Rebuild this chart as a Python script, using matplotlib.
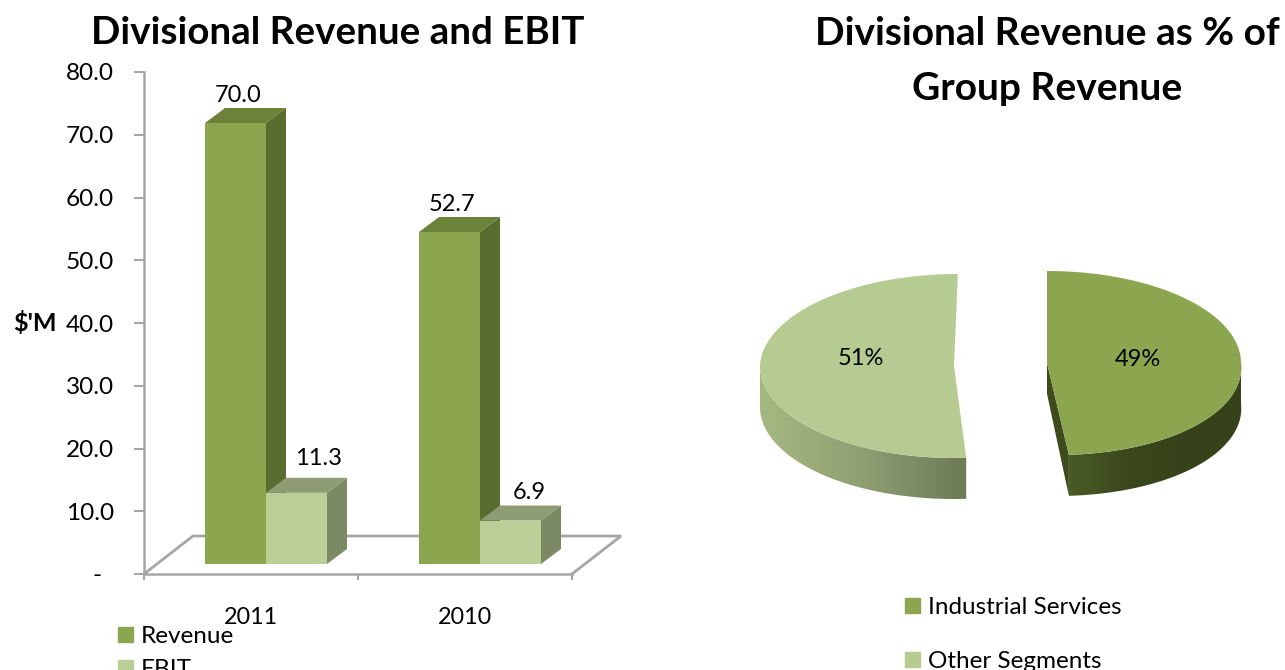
import numpy as np
import matplotlib
matplotlib.use("Agg")
import matplotlib.pyplot as plt
from matplotlib.patches import Polygon, Patch
from matplotlib.colors import LinearSegmentedColormap

plt.rcParams['font.family'] = ['Lato', 'DejaVu Sans']

# ---- data ----
years = ['2011', '2010']
revenue = [70.0, 52.7]
ebit = [11.3, 6.9]
y_ticks = [0, 10, 20, 30, 40, 50, 60, 70, 80]
y_tick_labels = ['-  ', '10.0', '20.0', '30.0', '40.0', '50.0', '60.0', '70.0', '80.0']
pie_labels = ['Industrial Services', 'Other Segments']
pie_shares = [49, 51]

W, H = 1285, 670
fig = plt.figure(figsize=(W / 100, H / 100), dpi=100, facecolor='white')


def axes_px(x0, y0, x1, y1):
    """Axes from pixel box (y measured from the top)."""
    return fig.add_axes([x0 / W, 1 - y1 / H, (x1 - x0) / W, (y1 - y0) / H])


GREY = '#a6a6a6'
TXT = '#000000'
C_REV = ('#8ba64e', '#5a6d30', '#6c8239')
C_EBIT = ('#b9cf96', '#7b8a65', '#8e9c73')

# ---- left: 3-D style column chart ----
ax = axes_px(144, 72, 572, 574)
ax.set_xlim(-0.5, 1.5)
ax.set_ylim(0, 80)
ax.patch.set_alpha(0)
px_x = 2 / 428
px_y = 80 / 502

for s in ('top', 'right'):
    ax.spines[s].set_visible(False)
for s in ('left', 'bottom'):
    ax.spines[s].set_color(GREY)
    ax.spines[s].set_linewidth(1.8)
    ax.spines[s].set_zorder(2)

ax.set_yticks(y_ticks)
ax.set_yticklabels(y_tick_labels, fontsize=17.6, color=TXT)
ax.tick_params(axis='y', length=7, width=1.5, color=GREY, pad=14.5)
ax.set_xticks([-0.5, 0.5, 1.5], minor=False)
ax.set_xticklabels(['', '', ''])
ax.tick_params(axis='x', length=4.5, width=1.5, color=GREY)
for i, yr in enumerate(years):
    ax.text(i, -44 / 502, yr, transform=ax.get_xaxis_transform(), fontsize=16.8, ha='center',
            va='center', color=TXT)
ax.text(-0.5 - 109.5 * px_x, 40, "$'M", fontsize=18, fontweight='bold', ha='center',
        va='center', color=TXT, clip_on=False)

# floor
floor_dx, floor_dy = 49 * px_x, 38 * px_y
ax.plot([-0.5, -0.5 + floor_dx, 1.5 + floor_dx, 1.5], [0, floor_dy, floor_dy, 0],
        color=GREY, lw=2, zorder=1, clip_on=False, solid_joinstyle='miter')

# columns
bar_w = 61 / 214
plane_x = 15 * px_x
base = 10 * px_y
scale = 6.3 * px_y
dep_x, dep_y = 20 * px_x, 15 * px_y


def column(xc_left, val, cols, z):
    x0, x1 = xc_left, xc_left + bar_w
    y0, y1 = base, base + val * scale
    ax.add_patch(Polygon([(x1, y0), (x1 + dep_x, y0 + dep_y), (x1 + dep_x, y1 + dep_y), (x1, y1)],
                         fc=cols[1], ec='none', zorder=z, clip_on=False))
    ax.add_patch(Polygon([(x0, y1), (x1, y1), (x1 + dep_x, y1 + dep_y), (x0 + dep_x, y1 + dep_y)],
                         fc=cols[2], ec='none', zorder=z, clip_on=False))
    ax.bar(x0, y1 - y0, width=bar_w, bottom=y0, align='edge', color=cols[0], zorder=z + 0.1,
           clip_on=False)
    return (x0 + x1) / 2 + dep_x / 2, y1 + dep_y


rev_label_shift = [(-7, 2), (-7, 2)]
ebit_label_shift = [(12, 9), (9, 3)]
for i in range(len(years)):
    xt, yt = column(i + plane_x - bar_w, revenue[i], C_REV, 3 + i)
    ax.text(xt + rev_label_shift[i][0] * px_x, yt + rev_label_shift[i][1] * px_y, f'{revenue[i]:.1f}',
            fontsize=17, ha='center', va='bottom', color=TXT, zorder=9, clip_on=False)
    xt, yt = column(i + plane_x, ebit[i], C_EBIT, 3.5 + i)
    ax.text(xt + ebit_label_shift[i][0] * px_x, yt + ebit_label_shift[i][1] * px_y, f'{ebit[i]:.1f}',
            fontsize=17, ha='center', va='bottom', color=TXT, zorder=9, clip_on=False)

fig.legend(handles=[Patch(color=C_REV[0], label='Revenue'), Patch(color=C_EBIT[0], label='EBIT')],
           loc='upper left', bbox_to_anchor=(118 / W, 1 - 626 / H), frameon=False, fontsize=17.5,
           handlelength=0.62, handleheight=0.62, handletextpad=0.33, labelspacing=0.5,
           borderpad=0, borderaxespad=0, labelcolor=TXT)

fig.text(338 / W, 1 - 33.5 / H, 'Divisional Revenue and EBIT', fontsize=27.7, fontweight='bold',
         ha='center', va='center', color=TXT)
fig.text(1047 / W, 1 - 33.5 / H, 'Divisional Revenue as % of', fontsize=28, fontweight='bold',
         ha='center', va='center', color=TXT)
fig.text(1047 / W, 1 - 88.5 / H, 'Group Revenue', fontsize=28, fontweight='bold',
         ha='center', va='center', color=TXT)

# ---- right: exploded 3-D style pie ----
R_PX = 194.0
pa = axes_px(740, 250, 1260, 520)
xl = (-520 / 2 / R_PX, 520 / 2 / R_PX)
yl = (-270 / 2 / R_PX, 270 / 2 / R_PX)
pa.set_xlim(*xl)
pa.set_ylim(*yl)
pa.axis('off')
TILT = 92 / 194
THICK = 41 / R_PX
PX = 1 / R_PX


def slice_xy(cx, cy, ang_deg, r, sh_top, sh_bot):
    a = np.radians(ang_deg)
    y = np.sin(a) * r
    x = np.cos(a) * r + np.where(y > 0, sh_top * y, -sh_bot * y)
    return cx + x, cy + y * TILT


def gradient_side(cx, cy, a_from, a_to, sh_top, sh_bot, stops, x_from, x_to):
    """Rim face of a slice, shaded from left to right and clipped to the rim."""
    angs = np.linspace(a_from, a_to, 160)
    xs, ys = slice_xy(cx, cy, angs, 1.0, sh_top, sh_bot)
    poly = Polygon(np.column_stack([np.r_[xs, xs[::-1]], np.r_[ys, ys[::-1] - THICK]]),
                   transform=pa.transData, fc='none', ec='none')
    pa.add_patch(poly)
    cmap = LinearSegmentedColormap.from_list('rim', stops)
    im = pa.imshow(np.linspace(0, 1, 256).reshape(1, -1), cmap=cmap, aspect='auto',
                   extent=(x_from, x_to, yl[0], yl[1]), zorder=2, interpolation='bilinear')
    im.set_clip_path(poly)
    pa.set_xlim(*xl)
    pa.set_ylim(*yl)


start = 90.0
sweep0 = pie_shares[0] / sum(pie_shares) * 360
end_angle = start - sweep0  # boundary of the two slices

# Industrial Services (right slice)
cx, cy = (1047 - 1000) * PX, (385 - 363) * PX
angs = np.linspace(start, end_angle, 160)
rx, ry = slice_xy(cx, cy, angs, 1.0, 0.0, 0.05)
ex, ey = slice_xy(cx, cy, np.array([end_angle]), 1.0, 0.0, 0.05)
tx, ty = slice_xy(cx, cy, np.array([start]), 1.0, 0.0, 0.05)
pa.add_patch(Polygon([(tx[0], ty[0]), (cx, cy - THICK * 0.75), (ex[0], ey[0] - THICK), (ex[0], ey[0]), (cx, cy)],
                     fc='#3c4a1c', ec='none', zorder=2))
gradient_side(cx, cy, end_angle, 0, 0.0, 0.05, ['#4a5b27', '#3a481c', '#36431a', '#36431a'], ex[0], cx + 1.0)
pa.add_patch(Polygon(np.column_stack([np.r_[rx, cx], np.r_[ry, cy]]), fc='#8ba64e', ec='none', zorder=3))
pa.text(cx + 0.47, cy + 0.02, f'{pie_shares[0]}%', fontsize=17, ha='center', va='center', color=TXT, zorder=5)

# Other Segments (left slice)
cx, cy = (954 - 1000) * PX, (385 - 366) * PX
angs = np.linspace(end_angle, start - 360, 200)
rx, ry = slice_xy(cx, cy, angs, 1.0, 0.02, 0.0)
ex, ey = slice_xy(cx, cy, np.array([end_angle]), 1.0, 0.02, 0.0)
gradient_side(cx, cy, -180, end_angle, 0.02, 0.0, ['#a6b882', '#8f9f72', '#6b7a55'], cx - 1.0, ex[0])
pa.add_patch(Polygon(np.column_stack([np.r_[rx, cx], np.r_[ry, cy]]), fc='#b6cb91', ec='none', zorder=3))
pa.text(cx - 0.48, cy + 0.04, f'{pie_shares[1]}%', fontsize=17, ha='center', va='center', color=TXT, zorder=5)

fig.legend(handles=[Patch(color='#8ba64e', label=pie_labels[0]), Patch(color='#b6cb91', label=pie_labels[1])],
           loc='upper left', bbox_to_anchor=(905 / W, 1 - 597 / H), frameon=False, fontsize=17.5,
           handlelength=0.62, handleheight=0.62, handletextpad=0.33, labelspacing=1.36,
           borderpad=0, borderaxespad=0, labelcolor=TXT)

fig.savefig('out.png', dpi=100, facecolor='white')
